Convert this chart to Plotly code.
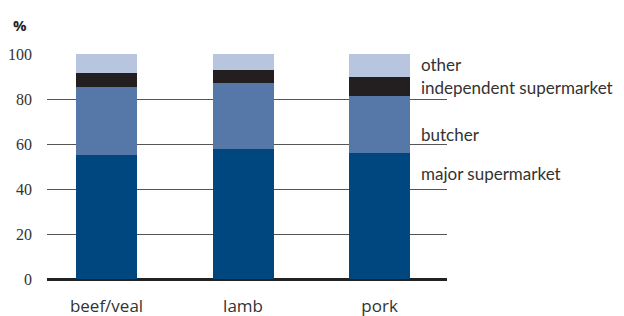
import plotly.graph_objects as go

categories = ["beef/veal", "lamb", "pork"]
major_supermarket = [55, 58, 56]
butcher = [30.5, 29, 25.5]
independent_supermarket = [6, 6, 8.5]
other = [8.5, 7, 10]
series_names = ["major supermarket", "butcher", "independent supermarket", "other"]
tick_vals = [0, 20, 40, 60, 80, 100]
label_y = [46.8, 64.3, 85.2, 95.3]

colors = ["#00467f", "#5578a8", "#231f20", "#b8c5df"]
series = [major_supermarket, butcher, independent_supermarket, other]

fig = go.Figure()
for name, vals, col in zip(series_names, series, colors):
    fig.add_trace(go.Bar(x=categories, y=vals, name=name, marker=dict(color=col, line=dict(width=0)),
                         width=0.447))

for name, y in zip(series_names, label_y):
    fig.add_annotation(x=2.29, y=y, xref="x", yref="y", text=name, showarrow=False,
                       xanchor="left", yanchor="middle",
                       font=dict(family="Lato", size=17, color="#333333"))

fig.add_annotation(x=-0.0675, y=1.129, xref="paper", yref="paper", text="<b>%</b>", showarrow=False,
                   xanchor="center", yanchor="middle",
                   font=dict(family="Open Sans", size=15, color="#222222"))

fig.update_layout(
    barmode="stack",
    width=616, height=308,
    margin=dict(l=39, r=177, t=46, b=37, autoexpand=False),
    plot_bgcolor="white", paper_bgcolor="white",
    showlegend=False,
    xaxis=dict(range=[-0.436, 2.494], showgrid=False, showline=False, ticks="",
               ticklabelstandoff=15, automargin=False,
               tickfont=dict(family="Open Sans", size=17, color="#333333")),
    yaxis=dict(range=[0, 100], tickvals=tick_vals, showgrid=True, gridcolor="#555555", gridwidth=1,
               zeroline=True, zerolinecolor="#222222", zerolinewidth=3, showline=False,
               ticks="", ticklabelstandoff=14, automargin=False,
               tickfont=dict(family="Liberation Sans Narrow", size=16, color="#333333")),
)
fig.write_html("out.html")
